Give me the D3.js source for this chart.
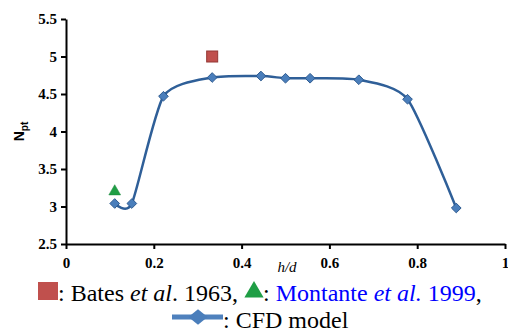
<!DOCTYPE html>
<html>
<head>
<meta charset="utf-8">
<script src="https://cdn.jsdelivr.net/npm/d3@7"></script>
<style>
  html, body { margin: 0; padding: 0; background: #fff; }
  svg { display: block; }
  .tick text { font-family: 'Liberation Serif', 'Times New Roman', serif; font-weight: bold; font-size: 15px; }
</style>
</head>
<body>
<svg id="chart" width="508" height="334"></svg>
<script>
// Power number vs. clearance ratio
const cfdX = [0.111, 0.15, 0.222, 0.333, 0.444, 0.5, 0.556, 0.667, 0.778, 0.889];
const cfdY = [3.04, 3.04, 4.47, 4.72, 4.74, 4.71, 4.71, 4.69, 4.43, 2.98];
const batesX = [0.333];
const batesY = [5.0];
const montanteX = [0.111];
const montanteY = [3.2];
const xTicks = [0, 0.2, 0.4, 0.6, 0.8, 1];
const yTicks = [2.5, 3, 3.5, 4, 4.5, 5, 5.5];

const svg = d3.select("#chart");
const m = { left: 66, right: 3, top: 19, bottom: 90 };
const W = 508, H = 334;

const x = d3.scaleLinear().domain([0, 1]).range([m.left, W - m.right]);
const y = d3.scaleLinear().domain([2.5, 5.5]).range([H - m.bottom, m.top]);

const serif = "'Liberation Serif','Times New Roman',serif";

// axes
const gx = svg.append("g").attr("transform", `translate(0,${y(2.5)})`)
  .call(d3.axisBottom(x).tickValues(xTicks).tickSize(5).tickSizeOuter(0)
    .tickFormat(d => d === 0 || d === 1 ? d3.format("d")(d) : d3.format(".1f")(d)));
const gy = svg.append("g").attr("transform", `translate(${x(0)},0)`)
  .call(d3.axisLeft(y).tickValues(yTicks).tickSize(5).tickSizeOuter(0)
    .tickFormat(d => String(d)));

[gx, gy].forEach(g => {
  g.attr("font-family", serif).attr("font-size", 15);
  g.select(".domain").attr("stroke", "#000").attr("stroke-width", 2);
  g.selectAll(".tick line").attr("stroke", "#000").attr("stroke-width", 2);
  g.selectAll(".tick text").attr("fill", "#000");
});
gx.selectAll(".tick text").attr("y", 10).attr("dy", "0.95em");
gy.selectAll(".tick text").attr("x", -9);

// axis titles
svg.append("text").attr("transform", `translate(24,${(y(5.5) + y(2.5)) / 2}) rotate(-90)`)
  .attr("text-anchor", "middle").attr("font-family", "'Liberation Sans',Arial,sans-serif")
  .attr("font-weight", "bold").attr("font-size", 14).attr("fill", "#000")
  .call(t => {
    t.append("tspan").text("N");
    t.append("tspan").text("pt").attr("font-size", 10).attr("dy", 4);
  });
svg.append("text").attr("x", 287).attr("y", 272).attr("text-anchor", "middle")
  .attr("font-family", serif).attr("font-style", "italic").attr("font-size", 15)
  .attr("fill", "#000").text("h/d");

// CFD smoothed curve
const pts = cfdX.map((v, i) => [v, cfdY[i]]);
const lineColor = "#2f5f98";
const markFill = "#4a7ebb";
svg.append("path").datum(pts)
  .attr("d", d3.line().x(d => x(d[0])).y(d => y(d[1])).curve(d3.curveCardinal.tension(0.35)))
  .attr("fill", "none").attr("stroke", lineColor).attr("stroke-width", 2.5);

const diamond = d3.symbol().type(d3.symbolDiamond2).size(60);
svg.append("g").selectAll("path").data(pts).join("path")
  .attr("transform", d => `translate(${x(d[0])},${y(d[1])})`)
  .attr("d", diamond).attr("fill", markFill).attr("stroke", "#2c5a90").attr("stroke-width", 1);

// Bates et al. 1963
svg.append("g").selectAll("rect").data(batesX.map((v, i) => [v, batesY[i]])).join("rect")
  .attr("x", d => x(d[0]) - 5.5).attr("y", d => y(d[1]) - 5.5)
  .attr("width", 11).attr("height", 11)
  .attr("fill", "#c0504d").attr("stroke", "#943734").attr("stroke-width", 1);

// Montante et al. 1999
const tri = d3.symbol().type(d3.symbolTriangle).size(60);
svg.append("g").selectAll("path").data(montanteX.map((v, i) => [v, montanteY[i]])).join("path")
  .attr("transform", d => `translate(${x(d[0])},${y(d[1])})`)
  .attr("d", tri).attr("fill", "#1f9e45").attr("stroke", "#18863a").attr("stroke-width", 0.5);

// legend
svg.append("rect").attr("x", 38).attr("y", 282).attr("width", 20).attr("height", 18).attr("fill", "#c0504d");
const l1 = svg.append("text").attr("x", 58).attr("y", 301)
  .attr("font-family", serif).attr("font-size", 24).attr("fill", "#000");
l1.append("tspan").text(": Bates ");
l1.append("tspan").attr("font-style", "italic").text("et al");
l1.append("tspan").text(". 1963,");
svg.append("path").attr("transform", "translate(254,292)")
  .attr("d", d3.symbol().type(d3.symbolTriangle).size(160)).attr("fill", "#1f9e45");
const l2 = svg.append("text").attr("x", 263).attr("y", 301)
  .attr("font-family", serif).attr("font-size", 24).attr("fill", "#000");
l2.append("tspan").text(": ");
l2.append("tspan").attr("fill", "#0000ff").text("Montante ");
l2.append("tspan").attr("fill", "#0000ff").attr("font-style", "italic").text("et al.");
l2.append("tspan").attr("fill", "#0000ff").text(" 1999");
l2.append("tspan").text(",");

svg.append("line").attr("x1", 172).attr("x2", 223).attr("y1", 317).attr("y2", 317)
  .attr("stroke", "#4f81bd").attr("stroke-width", 5);
svg.append("path").attr("transform", "translate(198,317) scale(1.25,1)")
  .attr("d", d3.symbol().type(d3.symbolDiamond2).size(150)).attr("fill", markFill);
svg.append("text").attr("x", 223).attr("y", 328)
  .attr("font-family", serif).attr("font-size", 24).attr("fill", "#000").text(": CFD model");
</script>
</body>
</html>
